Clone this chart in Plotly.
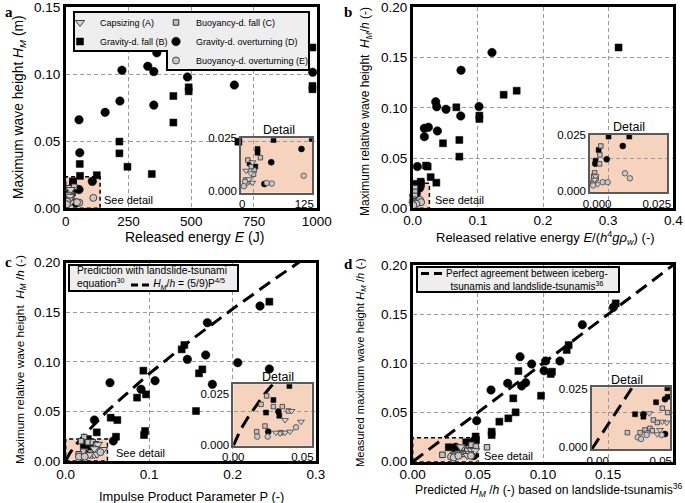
import plotly.graph_objects as go

# ---------------- data ----------------
# Panel a: released energy E (J) vs maximum wave height H_M (m)
a_A_x = [9, 17, 20, 10, 20, 14]
a_A_y = [0.0101, 0.0089, 0.014, 0.0043, 0.0046, 0.0062]
a_B_x = [983, 983, 983, 490, 490, 429, 429, 214, 214, 246, 343, 56, 57, 124, 29, 29, 15, 25, 688]
a_B_y = [0.120, 0.0913, 0.0888, 0.0903, 0.0873, 0.0838, 0.064, 0.0498, 0.041, 0.031, 0.0256,
         0.0331, 0.0242, 0.0247, 0.0201, 0.0184, 0.0135, 0.012, 0.0497]
a_C_x = [34, 12, 23, 22, 8, 13, 18]
a_C_y = [0.0161, 0.015, 0.0104, 0.0085, 0.0058, 0.005, 0.012]
a_D_x = [53, 56, 53, 106, 157, 216, 224, 327, 351, 363, 351, 485, 672, 984, 41]
a_D_y = [0.066, 0.0415, 0.014, 0.0201, 0.0716, 0.080, 0.103, 0.106, 0.102, 0.116, 0.077,
         0.098, 0.092, 0.1015, 0.004]
a_E_x = [54, 110, 7, 45, 5]
a_E_y = [0.0042, 0.0078, 0.005, 0.0045, 0.003]

# Panel b: released relative energy vs maximum relative wave height
b_A_x = [0.0011, 0.0018, 0.0015, 0.0025]
b_A_y = [0.004, 0.007, 0.0055, 0.0035]
b_B_x = [0.316, 0.1596, 0.1396, 0.067, 0.1023, 0.1023, 0.0465, 0.0716, 0.0716, 0.0205, 0.023,
         0.0276, 0.0363, 0.0123, 0.006, 0.0127, 0.0028, 0.0018]
b_B_y = [0.160, 0.117, 0.113, 0.1005, 0.0922, 0.0889, 0.0647, 0.068, 0.0514, 0.0425, 0.0415,
         0.031, 0.0255, 0.0265, 0.0243, 0.0243, 0.0185, 0.0138]
b_C_x = [0.0035, 0.0032, 0.0031, 0.0015, 0.0012, 0.002, 0.001]
b_C_y = [0.0202, 0.0163, 0.0124, 0.0085, 0.007, 0.006, 0.0045]
b_D_x = [0.1217, 0.0742, 0.0353, 0.0368, 0.0511, 0.1018, 0.0737, 0.0379, 0.0179, 0.024, 0.0179,
         0.0072, 0.0106, 0.0054, 0.0017]
b_D_y = [0.155, 0.1373, 0.106, 0.101, 0.0985, 0.1012, 0.0919, 0.077, 0.0796, 0.0806, 0.0713,
         0.0415, 0.0202, 0.0144, 0.0125]
b_E_x = [0.0113, 0.0129, 0.0041, 0.0057, 0.001]
b_E_y = [0.0083, 0.0061, 0.0044, 0.0044, 0.003]

# Panel c: impulse product parameter P vs maximum relative wave height
c_A_x = [0.0387, 0.0343, 0.0449, 0.031, 0.0343, 0.0376, 0.0283]
c_A_y = [0.0168, 0.0124, 0.0116, 0.006, 0.0063, 0.0068, 0.0063]
c_B_x = [0.2441, 0.1422, 0.139, 0.1638, 0.1598, 0.0931, 0.0963, 0.0855, 0.0539, 0.0619, 0.0951,
         0.0939, 0.1562, 0.0372, 0.0603, 0.0266, 0.0217, 0.0305]
c_B_y = [0.1607, 0.117, 0.1126, 0.0924, 0.0884, 0.0911, 0.0672, 0.0639, 0.0437, 0.0413, 0.0303,
         0.0262, 0.0504, 0.0289, 0.0245, 0.0221, 0.016, 0.0145]
c_C_x = [0.0221, 0.0184, 0.0266, 0.0325, 0.0365, 0.021, 0.0155, 0.0316]
c_C_y = [0.0241, 0.020, 0.0189, 0.0189, 0.0168, 0.0095, 0.0068, 0.0063]
c_D_x = [0.2329, 0.1698, 0.1458, 0.1678, 0.1758, 0.2062, 0.2441, 0.1071, 0.0903, 0.0531, 0.0344,
         0.0571, 0.0299, 0.0232]
c_D_y = [0.1563, 0.1395, 0.1025, 0.1069, 0.0773, 0.0992, 0.0928, 0.081, 0.0723, 0.079, 0.0413,
         0.0202, 0.0165, 0.0068]
c_E_x = [0.0159, 0.0228, 0.0416]
c_E_y = [0.0044, 0.0044, 0.0089]
# landslide-tsunami prediction curve H_M/h = (5/9)P^(4/5)
c_pred_x = [0, 0.005, 0.01, 0.02, 0.05, 0.1, 0.15, 0.2, 0.25, 0.28]
c_pred_y = [0, 0.008, 0.014, 0.0243, 0.0506, 0.088, 0.1218, 0.1533, 0.1833, 0.2007]

# Panel d: predicted vs measured maximum relative wave height
d_A_x = [0.0368, 0.0451, 0.0479, 0.0436, 0.0419, 0.0355]
d_A_y = [0.0151, 0.0116, 0.0112, 0.0081, 0.0063, 0.007]
d_B_x = [0.1558, 0.1197, 0.1182, 0.1069, 0.1059, 0.0811, 0.0772, 0.0985, 0.079, 0.0734, 0.0665,
         0.0606, 0.0606, 0.0483, 0.0411, 0.0277, 0.033, 0.0486]
d_B_y = [0.161, 0.1186, 0.1136, 0.0915, 0.0892, 0.0922, 0.0644, 0.0671, 0.0502, 0.0441, 0.0407,
         0.0305, 0.0271, 0.0256, 0.0197, 0.0147, 0.0137, 0.022]
d_C_x = [0.0451, 0.0485, 0.0394, 0.0419, 0.0372, 0.034, 0.0309, 0.0228, 0.0387, 0.057]
d_C_y = [0.0172, 0.0154, 0.0123, 0.0112, 0.0088, 0.0081, 0.007, 0.007, 0.0078, 0.0146]
d_D_x = [0.154, 0.1302, 0.0824, 0.0913, 0.102, 0.113, 0.1008, 0.0729, 0.0601, 0.0867, 0.0836,
         0.0491, 0.033, 0.0468, 0.0468]
d_D_y = [0.157, 0.1393, 0.1068, 0.0993, 0.1024, 0.1024, 0.0925, 0.0797, 0.0729, 0.0803, 0.077,
         0.0417, 0.0147, 0.021, 0.0064]
d_E_x = [0.0294, 0.0315, 0.0351, 0.0447]
d_E_y = [0.005, 0.0043, 0.006, 0.006]
d_perfect_x = [0, 0.2]
d_perfect_y = [0, 0.2]

category_names = {
    "A": "Capsizing (A)",
    "B": "Gravity-d. fall (B)",
    "C": "Buoyancy-d. fall (C)",
    "D": "Gravity-d. overturning (D)",
    "E": "Buoyancy-d. overturning (E)",
}

# ---------------- helpers ----------------
W, H = 685, 503
def px(x):
    return x / W
def py(y):
    return 1 - y / H

FONT = "Liberation Sans, Arial, Helvetica, sans-serif"
SERIF = "Liberation Serif, Times New Roman, serif"
PEACH = "#f6d3bf"

main_style = {
    "A": dict(symbol="triangle-down", size=8, color="#d4d4d4", line=dict(color="#444444", width=1)),
    "B": dict(symbol="square", size=7, color="black", line=dict(color="black", width=0.5)),
    "C": dict(symbol="square", size=5.5, color="#c4c4c4", line=dict(color="#333333", width=1)),
    "D": dict(symbol="circle", size=8.5, color="black", line=dict(color="black", width=0.5)),
    "E": dict(symbol="circle", size=7, color="#c8c8c8", line=dict(color="#444444", width=1)),
}
inset_style = {
    "A": dict(symbol="triangle-down", size=6, color="#d4d4d4", line=dict(color="#444444", width=0.8)),
    "B": dict(symbol="square", size=5, color="black", line=dict(color="black", width=0.5)),
    "C": dict(symbol="square", size=4.5, color="#c4c4c4", line=dict(color="#333333", width=0.8)),
    "D": dict(symbol="circle", size=6, color="black", line=dict(color="black", width=0.5)),
    "E": dict(symbol="circle", size=5.5, color="#c8c8c8", line=dict(color="#444444", width=0.8)),
}
legend_of = {"A": "legend", "B": "legend", "C": "legend2", "D": "legend2", "E": "legend2"}
rank = {"A": 1, "B": 2, "C": 3, "D": 4, "E": 5}
draw_order = ["D", "B", "C", "A", "E"]

panels = {
    "a": dict(data={"A": (a_A_x, a_A_y), "B": (a_B_x, a_B_y), "C": (a_C_x, a_C_y),
                    "D": (a_D_x, a_D_y), "E": (a_E_x, a_E_y)}, main=("x", "y"), inset=("x5", "y5")),
    "b": dict(data={"A": (b_A_x, b_A_y), "B": (b_B_x, b_B_y), "C": (b_C_x, b_C_y),
                    "D": (b_D_x, b_D_y), "E": (b_E_x, b_E_y)}, main=("x2", "y2"), inset=("x6", "y6")),
    "c": dict(data={"A": (c_A_x, c_A_y), "B": (c_B_x, c_B_y), "C": (c_C_x, c_C_y),
                    "D": (c_D_x, c_D_y), "E": (c_E_x, c_E_y)}, main=("x3", "y3"), inset=("x7", "y7")),
    "d": dict(data={"A": (d_A_x, d_A_y), "B": (d_B_x, d_B_y), "C": (d_C_x, d_C_y),
                    "D": (d_D_x, d_D_y), "E": (d_E_x, d_E_y)}, main=("x4", "y4"), inset=("x8", "y8")),
}

fig = go.Figure()

# reference lines (drawn first, under markers)
DASH = "13px,7px"
for xa, ya in [("x3", "y3"), ("x7", "y7")]:
    fig.add_trace(go.Scatter(x=c_pred_x, y=c_pred_y, mode="lines", xaxis=xa, yaxis=ya,
                             line=dict(color="black", width=3, dash=DASH), showlegend=False,
                             hoverinfo="skip"))
for xa, ya in [("x4", "y4"), ("x8", "y8")]:
    fig.add_trace(go.Scatter(x=d_perfect_x, y=d_perfect_y, mode="lines", xaxis=xa, yaxis=ya,
                             line=dict(color="black", width=3, dash=DASH), showlegend=False,
                             hoverinfo="skip"))

for key, p in panels.items():
    for cat in draw_order:
        xs, ys = p["data"][cat]
        st = main_style[cat]
        fig.add_trace(go.Scatter(
            x=xs, y=ys, mode="markers", xaxis=p["main"][0], yaxis=p["main"][1],
            name=category_names[cat], legend=legend_of[cat], legendrank=rank[cat],
            showlegend=(key == "a"), cliponaxis=False,
            marker=dict(symbol=st["symbol"], size=st["size"], color=st["color"], line=st["line"])))
    for cat in draw_order:
        xs, ys = p["data"][cat]
        st = inset_style[cat]
        fig.add_trace(go.Scatter(
            x=xs, y=ys, mode="markers", xaxis=p["inset"][0], yaxis=p["inset"][1],
            showlegend=False, cliponaxis=True,
            marker=dict(symbol=st["symbol"], size=st["size"], color=st["color"], line=st["line"])))

# ---------------- axes ----------------
def main_ax(dom, rng, tv, fmt, anchor, standoff=0):
    return dict(domain=dom, range=rng, tickvals=tv, tickformat=fmt, anchor=anchor,
                showline=True, linecolor="black", linewidth=2.5, mirror=True,
                showgrid=True, gridcolor="#9a9a9a", gridwidth=1, griddash="4px,3px",
                zeroline=False, ticks="", tickfont=dict(size=13.5, family=FONT, color="black"),
                ticklabelstandoff=standoff, automargin=False, fixedrange=True)

def inset_ax(dom, rng, tv, tt, anchor):
    return dict(domain=dom, range=rng, tickvals=tv, ticktext=tt, anchor=anchor,
                showline=True, linecolor="#5a5a5a", linewidth=1.5, mirror=True,
                showgrid=False, zeroline=False, ticks="",
                tickfont=dict(size=11.5, family=FONT, color="black"),
                automargin=False, fixedrange=True)

fig.update_layout(
    xaxis=main_ax([px(65.7), px(316.7)], [0, 1000], [0, 250, 500, 750, 1000], "d", "y", -1),
    yaxis=main_ax([py(208.3), py(7.3)], [0, 0.15], [0, 0.05, 0.10, 0.15], ".2f", "x"),
    xaxis2=main_ax([px(412.7), px(673.3)], [0, 0.4], [0, 0.1, 0.2, 0.3, 0.4], ".1f", "y2", -2),
    yaxis2=main_ax([py(208.3), py(7.3)], [0, 0.2], [0, 0.05, 0.10, 0.15, 0.20], ".2f", "x2"),
    xaxis3=main_ax([px(65.7), px(316)], [0, 0.3], [0, 0.1, 0.2, 0.3], ".1f", "y3", -1),
    yaxis3=main_ax([py(461), py(262.7)], [0, 0.2], [0, 0.05, 0.10, 0.15, 0.20], ".2f", "x3"),
    xaxis4=main_ax([px(412.7), px(673.3)], [0, 0.2], [0, 0.05, 0.10, 0.15, 0.20], ".2f", "y4", -2),
    yaxis4=main_ax([py(461.7), py(265)], [0, 0.2], [0, 0.05, 0.10, 0.15, 0.20], ".2f", "x4"),
    xaxis5=inset_ax([px(241), px(312.3)], [0, 125], [2.3, 111], ["0", "125"], "y5"),
    yaxis5=inset_ax([py(192.7), py(138.3)], [0, 0.025], [0.0009, 0.025], ["0.000", "0.025"], "x5"),
    xaxis6=inset_ax([px(590), px(667.3)], [0, 0.025], [0.0023, 0.0216], ["0.000", "0.025"], "y6"),
    yaxis6=inset_ax([py(192.3), py(135)], [0, 0.025], [0.0007, 0.025], ["0.000", "0.025"], "x6"),
    xaxis7=inset_ax([px(233.3), px(311.7)], [0, 0.052], [0.0, 0.0458], ["0.00", "0.05"], "y7"),
    yaxis7=inset_ax([py(445.7), py(384.3)], [0, 0.0297], [0.0003, 0.025], ["0.000", "0.025"], "x7"),
    xaxis8=inset_ax([px(591.7), px(670)], [0, 0.05], [0.0038, 0.0441], ["0.00", "0.05"], "y8"),
    yaxis8=inset_ax([py(449.3), py(387.3)], [0, 0.026], [0.0011, 0.0255], ["0.000", "0.025"], "x8"),
)

# ---------------- legends (panel a) ----------------
leg_common = dict(xanchor="left", yanchor="top", bgcolor="rgba(0,0,0,0)", borderwidth=0,
                  font=dict(size=9, family=FONT, color="black"), itemwidth=30,
                  orientation="v", traceorder="normal")
fig.update_layout(
    legend=dict(x=px(60), y=py(8), **leg_common),
    legend2=dict(x=px(156), y=py(8), **leg_common),
)

# ---------------- shapes ----------------
shapes = []
for xa, ya, x1, y1 in [("x", "y", 137, 0.0236), ("x2", "y2", 0.0256, 0.0249),
                       ("x3", "y3", 0.05, 0.0222), ("x4", "y4", 0.0504, 0.0244)]:
    shapes.append(dict(type="rect", xref=xa, yref=ya, x0=0, y0=0, x1=x1, y1=y1, layer="below",
                       fillcolor=PEACH, line=dict(color="black", width=1.5, dash="4px,3px")))
for x0, x1, y0, y1 in [(241, 312.3, 138.3, 192.7), (590, 667.3, 135, 192.3),
                       (233.3, 311.7, 384.3, 445.7), (591.7, 670, 387.3, 449.3)]:
    shapes.append(dict(type="rect", xref="paper", yref="paper", x0=px(x0), x1=px(x1),
                       y0=py(y1), y1=py(y0), layer="below", fillcolor=PEACH, line=dict(width=0)))
# L-shaped legend frame in panel a
lx0, lx1, lxn = px(74), px(309), px(167)
ly0, lym, ly1 = py(12), py(51), py(70)
shapes.append(dict(type="path", xref="paper", yref="paper",
                   path=f"M {lx0},{ly0} L {lx1},{ly0} L {lx1},{ly1} L {lxn},{ly1} L {lxn},{lym} L {lx0},{lym} Z",
                   fillcolor="#eeeeee", line=dict(color="black", width=2), layer="above"))
# legend boxes of panels c and d
shapes.append(dict(type="rect", xref="paper", yref="paper", x0=px(69), x1=px(238), y0=py(291), y1=py(265),
                   fillcolor="#eeeeee", line=dict(color="black", width=2), layer="above"))
shapes.append(dict(type="rect", xref="paper", yref="paper", x0=px(417), x1=px(619), y0=py(292), y1=py(267),
                   fillcolor="#eeeeee", line=dict(color="black", width=2), layer="above"))
# legend line samples
shapes.append(dict(type="line", xref="paper", yref="paper", x0=px(131), x1=px(151), y0=py(285), y1=py(285),
                   line=dict(color="black", width=3, dash="7px,4px"), layer="above"))
shapes.append(dict(type="line", xref="paper", yref="paper", x0=px(421), x1=px(444), y0=py(273.5), y1=py(273.5),
                   line=dict(color="black", width=3, dash="8px,5px"), layer="above"))
fig.update_layout(shapes=shapes)

# ---------------- annotations ----------------
ann = []
def text(x, y, s, size=11, xanchor="left", family=FONT, bold=False, angle=0, align="left"):
    if bold:
        s = f"<b>{s}</b>"
    ann.append(dict(x=px(x), y=py(y), xref="paper", yref="paper", text=s, showarrow=False,
                    xanchor=xanchor, yanchor="middle", textangle=angle, align=align,
                    font=dict(size=size, family=family, color="black")))

# panel letters
text(3, 12, "a", 15, family=SERIF, bold=True)
text(342, 12, "b", 15, family=SERIF, bold=True)
text(3, 262, "c", 15, family=SERIF, bold=True)
text(342, 264, "d", 15, family=SERIF, bold=True)

# axis titles
text(194, 237, "Released energy <i>E</i> (J)", 14, xanchor="center")
text(20, 107, "Maximum wave height <i>H<sub>M</sub></i> (m)", 13.8, xanchor="center", angle=-90)
text(545, 238, "Released relative energy <i>E</i>/(<i>h</i><sup>4</sup><i>gρ<sub>w</sub></i>) (-)", 13, xanchor="center")
text(366, 111, "Maximum relative wave height  <i>H<sub>M</sub></i>/<i>h</i> (-)", 12, xanchor="center", angle=-90)
text(191, 496, "Impulse Product Parameter P (-)", 12.9, xanchor="center")
text(20, 360, "Maximum relative wave height  <i>H<sub>M</sub></i> /<i>h</i> (-)", 11.8, xanchor="center", angle=-90)
text(549, 490, "Predicted <i>H<sub>M</sub></i> /<i>h</i> (-) based on landslide-tsunamis<sup>36</sup>", 12.2, xanchor="center")
text(361, 362, "Measured maximum wave height <i>H<sub>M</sub></i> /<i>h</i> (-)", 11.2, xanchor="center", angle=-90)

# detail labels
text(102, 200, "See detail", 11)
text(433, 200, "See detail", 11)
text(114, 453, "See detail", 11)
text(482, 456, "See detail", 11)
text(279, 130, "Detail", 12.5, xanchor="center")
text(629, 127, "Detail", 12.5, xanchor="center")
text(278, 377, "Detail", 12.5, xanchor="center")
text(627, 380, "Detail", 12.5, xanchor="center")

# legend texts of panels c and d
nb = "&nbsp;" * 10
text(75, 278.5, "Prediction with landslide-tsunami<br>equation<sup>30</sup>" + nb +
     "<i>H<sub>M</sub></i>/<i>h</i> = (5/9)P<sup>4/5</sup>", 10.3)
text(527, 279.5, "Perfect agreement between iceberg-<br>tsunamis and landslide-tsunamis<sup>36</sup>",
     10, xanchor="center", align="center")
fig.update_layout(annotations=ann)

fig.update_layout(
    width=W, height=H, margin=dict(l=0, r=0, t=0, b=0),
    paper_bgcolor="white", plot_bgcolor="rgba(0,0,0,0)",
    font=dict(family=FONT, color="black"), hovermode=False,
)

fig.write_html("out.html", config={"displayModeBar": False},
               post_script="document.body.style.margin='0';")
